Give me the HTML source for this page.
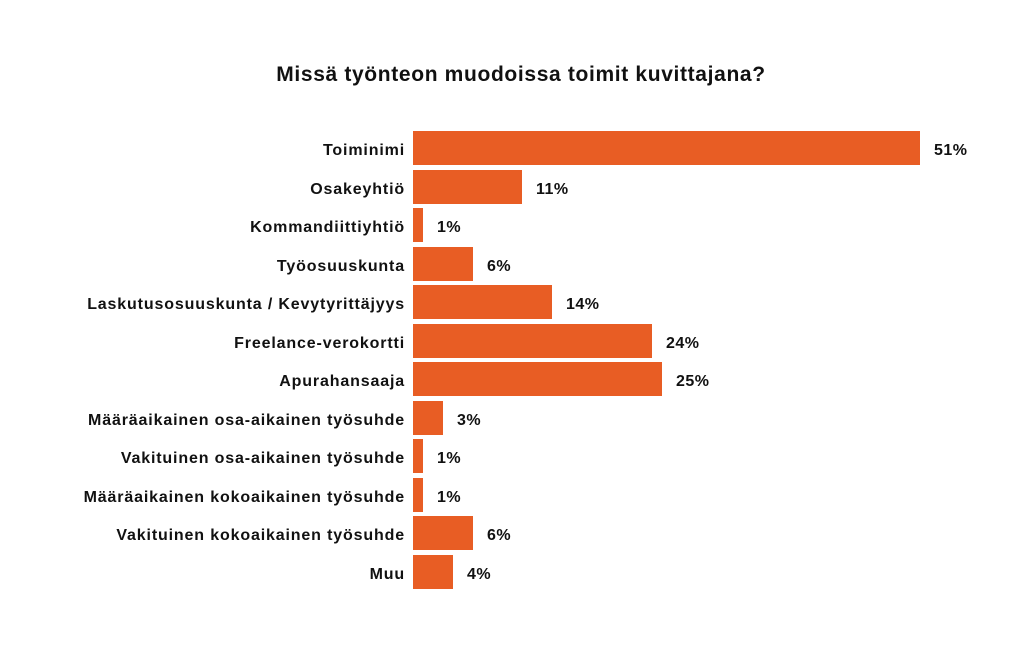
<!DOCTYPE html>
<html><head><meta charset="utf-8"><style>
body{margin:0;background:#fff;width:1024px;height:661px;overflow:hidden;font-family:"Liberation Sans",sans-serif;}
.t{position:absolute;left:9px;width:1024px;top:63px;text-align:center;font-weight:bold;font-size:21px;letter-spacing:0.65px;color:#111;}
.l{position:absolute;right:619px;font-weight:bold;font-size:16px;letter-spacing:0.85px;color:#111;white-space:nowrap;line-height:34px;padding-top:3px;}
.b{position:absolute;left:413px;height:34px;background:#E85D24;}
.v{position:absolute;font-weight:bold;font-size:16px;letter-spacing:0.5px;color:#111;line-height:34px;padding-top:3px;}
</style></head><body>
<div class="t">Missä työnteon muodoissa toimit kuvittajana?</div>
<div id="c"></div>
<script>
var d=[["Toiminimi",51],["Osakeyhtiö",11],["Kommandiittiyhtiö",1],["Työosuuskunta",6],["Laskutusosuuskunta / Kevytyrittäjyys",14],["Freelance-verokortti",24],["Apurahansaaja",25],["Määräaikainen osa-aikainen työsuhde",3],["Vakituinen osa-aikainen työsuhde",1],["Määräaikainen kokoaikainen työsuhde",1],["Vakituinen kokoaikainen työsuhde",6],["Muu",4]];
var h="";
d.forEach(function(r,i){var y=131+i*38.5;var w=Math.round(r[1]*9.94);
h+='<div class="l" style="top:'+y+'px">'+r[0]+'</div><div class="b" style="top:'+y+'px;width:'+w+'px"></div><div class="v" style="top:'+y+'px;left:'+(413+w+14)+'px">'+r[1]+'%</div>';});
document.getElementById("c").innerHTML=h;
</script>
</body></html>
